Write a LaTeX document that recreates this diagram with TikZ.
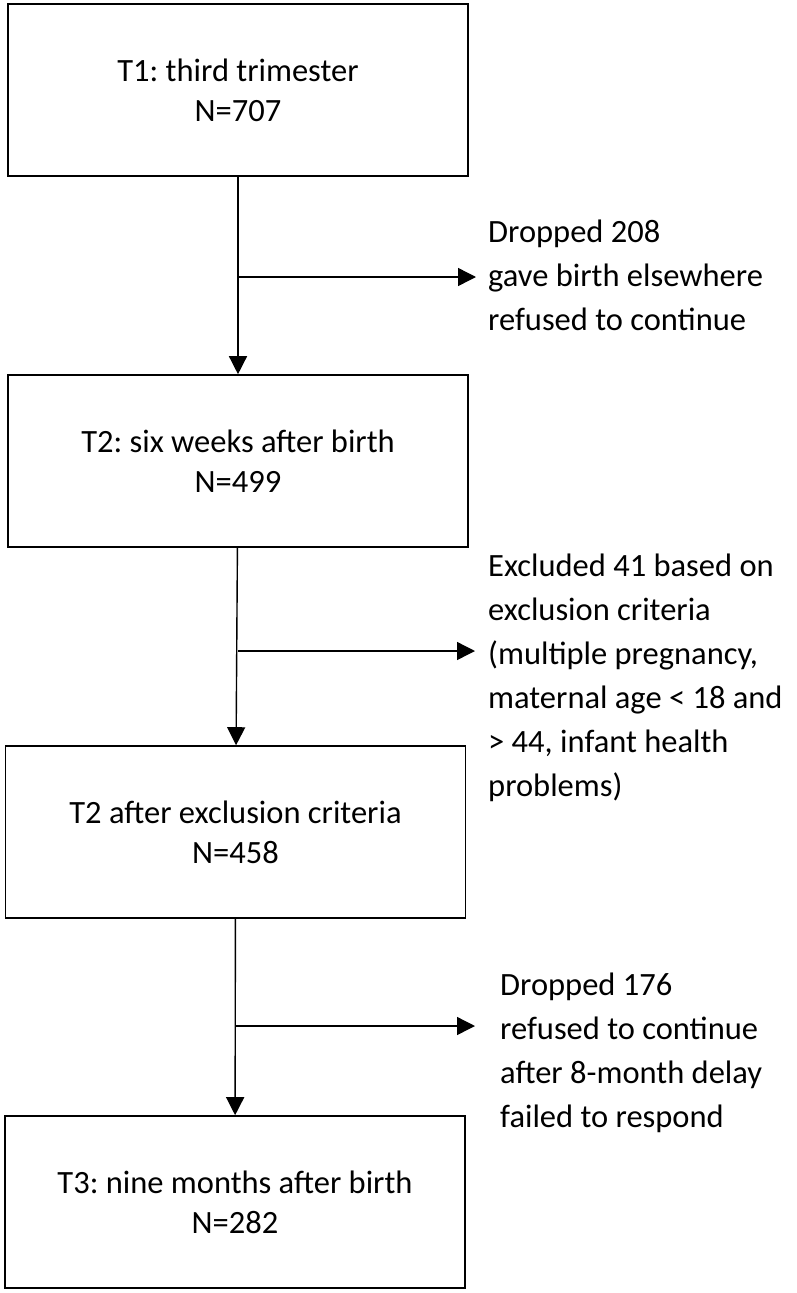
\documentclass[tikz,border=0pt]{standalone}
\usepackage{fontspec}
\setmainfont{Carlito}
\usetikzlibrary{arrows.meta}
\frenchspacing

\begin{document}
\begin{tikzpicture}
[
	x=1pt, y=-1pt,
	stage/.style={draw,line width=1.6pt,minimum width=460pt,minimum height=172pt,inner sep=0pt,align=center,font=\fontsize{32.5}{40}\selectfont},
	note/.style={anchor=north west,inner sep=0pt,align=left,font=\fontsize{32.5}{44}\selectfont},
	flow/.style={line width=1.4pt,-{Triangle[length=18pt,width=18pt]}}
]
	\useasboundingbox (0,0) rectangle (796,1293);

	% stages
	\node[stage] at (238,90) (t1) {T1: third trimester\\N=707};
	\node[stage] at (238,461) (t2) {T2: six weeks after birth\\N=499};
	\node[stage] at (235.5,832) (t2x) {T2 after exclusion criteria\\N=458};
	\node[stage] at (235,1202) (t3) {T3: nine months after birth\\N=282};

	% main flow
	\draw[flow] (t1) -- (t2);
	\draw[flow] (t2) -- (t2x);
	\draw[flow] (t2x) -- (t3);

	% losses
	\coordinate (e1) at (476,277);
	\coordinate (e2) at (475,651);
	\coordinate (e3) at (475,1026);
	\draw[flow] (t1.south |- e1) -- (e1);
	\draw[flow] (t2.south |- e2) -- (e2);
	\draw[flow] (t2x.south |- e3) -- (e3);

	\node[note] at (488,220) (drop1) {Dropped 208\\gave birth elsewhere\\refused to continue};
	\node[note] at (488,554) (excl) {Excluded 41 based on\\exclusion criteria\\(multiple pregnancy,\\maternal age < 18 and\\> 44, infant health\\problems)};
	\node[note] at (500,973) (drop2) {Dropped 176\\refused to continue\\after 8-month delay\\failed to respond};

\end{tikzpicture}
\end{document}
